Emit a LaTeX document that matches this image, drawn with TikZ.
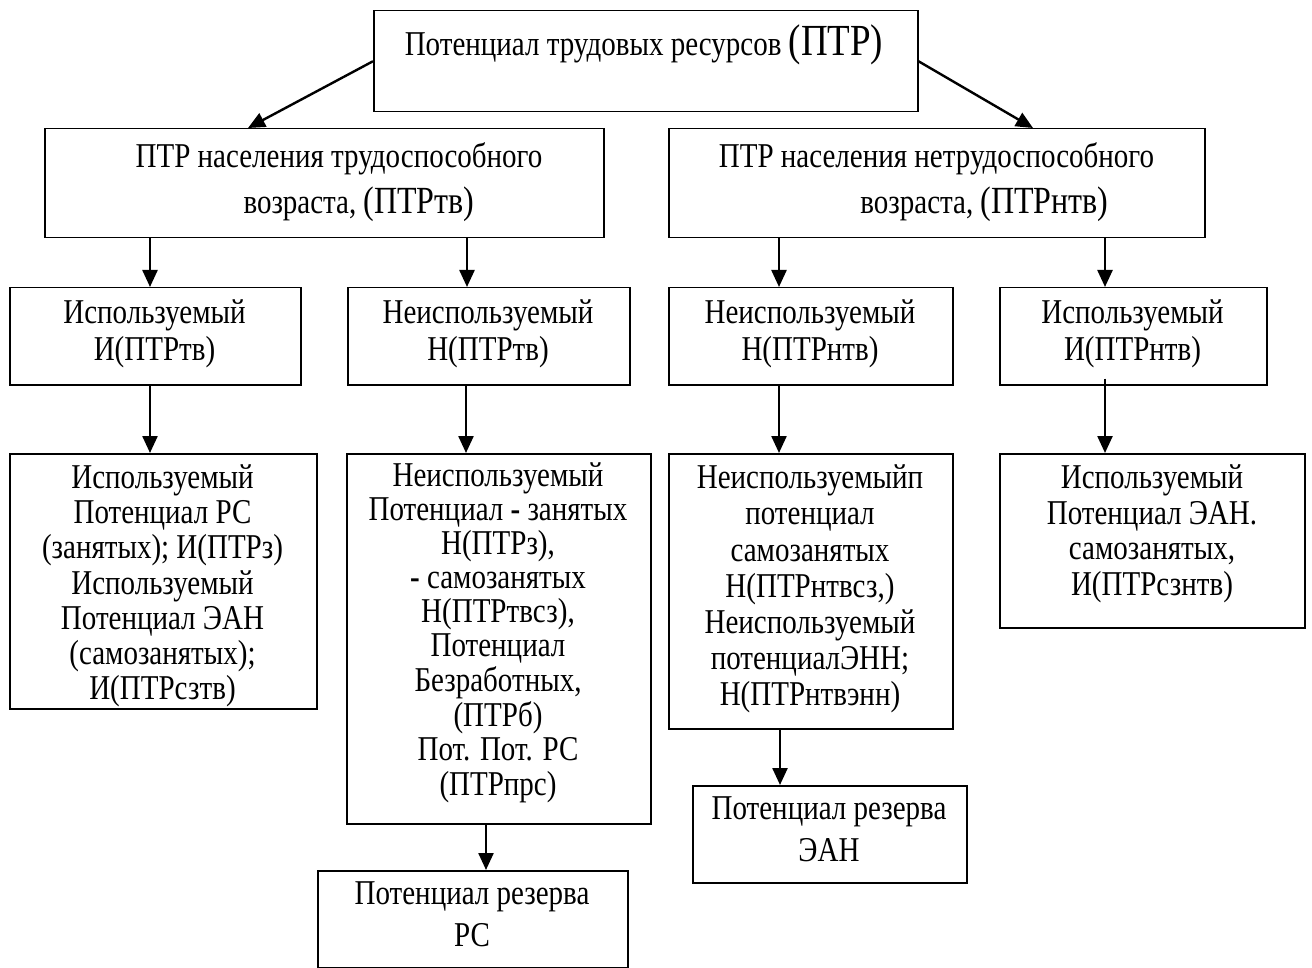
\documentclass[tikz,border=0pt]{standalone}
\usepackage{fontspec}
\setmainfont{Liberation Serif}
\usetikzlibrary{arrows.meta,calc}
\newcommand{\vtext}[2]{\scalebox{1}[1.2]{\fontsize{29}{#1}\selectfont\begin{tabular}{@{}c@{}}#2\end{tabular}}}
\newcommand{\bigptr}[1]{{\fontsize{32}{34}\selectfont #1}}
\begin{document}
\begin{tikzpicture}[x=1pt,y=-1pt,
  bx/.style={draw, line width=1.5pt, inner sep=0pt, anchor=north west},
  txt/.style={inner sep=0pt},
  arr/.style={line width=2.4pt, -{Triangle[width=15pt,length=17pt]}}]
\useasboundingbox (0,0) rectangle (1312,968);
\clip (0,0) rectangle (1312,968);
% boxes
\node[bx, minimum width=544, minimum height=101] (top) at (373,10) {};
\node[bx, minimum width=559, minimum height=109] (L2) at (44,128) {};
\node[bx, minimum width=536, minimum height=109] (R2) at (668,128) {};
\node[bx, minimum width=291, minimum height=97] (A3) at (9,287) {};
\node[bx, minimum width=282, minimum height=97] (B3) at (347,287) {};
\node[bx, minimum width=284, minimum height=97] (C3) at (668,287) {};
\node[bx, minimum width=267, minimum height=97] (D3) at (999,287) {};
\node[bx, minimum width=307, minimum height=255] (A4) at (9,453) {};
\node[bx, minimum width=304, minimum height=370] (B4) at (346,453) {};
\node[bx, minimum width=284, minimum height=275] (C4) at (668,453) {};
\node[bx, minimum width=305, minimum height=174] (D4) at (999,453) {};
\node[bx, minimum width=310, minimum height=97] (RS) at (317,870) {};
\node[bx, minimum width=274, minimum height=97] (E5) at (692,785) {};
% texts
\node[txt] (topt) at (644,47) {\vtext{36}{Потенциал трудовых ресурсов {\fontsize{37}{40}\selectfont(ПТР)}}};
\node[txt] (L2t) at (339,181) {\vtext{38.3}{ПТР населения трудоспособного\\\hspace*{40pt}возраста, \bigptr{(ПТРтв)}}};
\node[txt] (R2t) at (936.5,181) {\vtext{38.3}{ПТР населения нетрудоспособного\\\hspace*{96pt}возраста, \bigptr{(ПТРнтв)}}};
\node[txt] (A3t) at (154.5,335) {\vtext{30.8}{Используемый\\И(ПТРтв)}};
\node[txt] (B3t) at (488,335) {\vtext{30.8}{Неиспользуемый\\Н(ПТРтв)}};
\node[txt] (C3t) at (810,335) {\vtext{30.8}{Неиспользуемый\\Н(ПТРнтв)}};
\node[txt] (D3t) at (1132.5,335) {\vtext{30.8}{Используемый\\И(ПТРнтв)}};
\node[txt] (A4t) at (162.5,587) {\vtext{29.2}{Используемый\\Потенциал РС\\(занятых); И(ПТРз)\\Используемый\\Потенциал ЭАН\\(самозанятых);\\И(ПТРсзтв)}};
\node[txt] (B4t) at (498,634) {\vtext{28.2}{Неиспользуемый\\Потенциал \textbf{-} занятых\\Н(ПТРз),\\\textbf{-} самозанятых\\Н(ПТРтвсз),\\Потенциал\\Безработных,\\(ПТРб)\\Пот. Пот. РС\\(ПТРпрс)}};
\node[txt] (C4t) at (810,590) {\vtext{30.1}{Неиспользуемыйп\\потенциал\\самозанятых\\Н(ПТРнтвсз,)\\Неиспользуемый\\потенциалЭНН;\\Н(ПТРнтвэнн)}};
\node[txt] (D4t) at (1152,535) {\vtext{29.7}{Используемый\\Потенциал ЭАН.\\самозанятых,\\И(ПТРсзнтв)}};
\node[txt] (RSt) at (472,917) {\vtext{35}{Потенциал резерва\\РС}};
\node[txt] (E5t) at (829,832) {\vtext{35}{Потенциал резерва\\ЭАН}};
% arrow columns
\coordinate (xa) at (150,0);
\coordinate (xb) at (467,0);
\coordinate (xb2) at (466,0);
\coordinate (xc) at (779,0);
\coordinate (xd) at (1105,0);
\coordinate (xr) at (486,0);
\coordinate (xe) at (780,0);
% connectors
\draw[arr] (top.west) -- ($(L2.north west)+(204,0)$);
\draw[arr] (top.east) -- ($(R2.north west)+(365,0)$);
\draw[arr] (xa |- L2.south) -- (xa |- A3.north);
\draw[arr] (xb |- L2.south) -- (xb |- B3.north);
\draw[arr] (xc |- R2.south) -- (xc |- C3.north);
\draw[arr] (xd |- R2.south) -- (xd |- D3.north);
\draw[arr] (xa |- A3.south) -- (xa |- A4.north);
\draw[arr] (xb2 |- B3.south) -- (xb2 |- B4.north);
\draw[arr] (xc |- C3.south) -- (xc |- C4.north);
\draw[arr] ($(xd |- D3.south)+(0,-7)$) -- (xd |- D4.north);
\draw[arr] (xr |- B4.south) -- (xr |- RS.north);
\draw[arr] (xe |- C4.south) -- (xe |- E5.north);
\end{tikzpicture}
\end{document}
